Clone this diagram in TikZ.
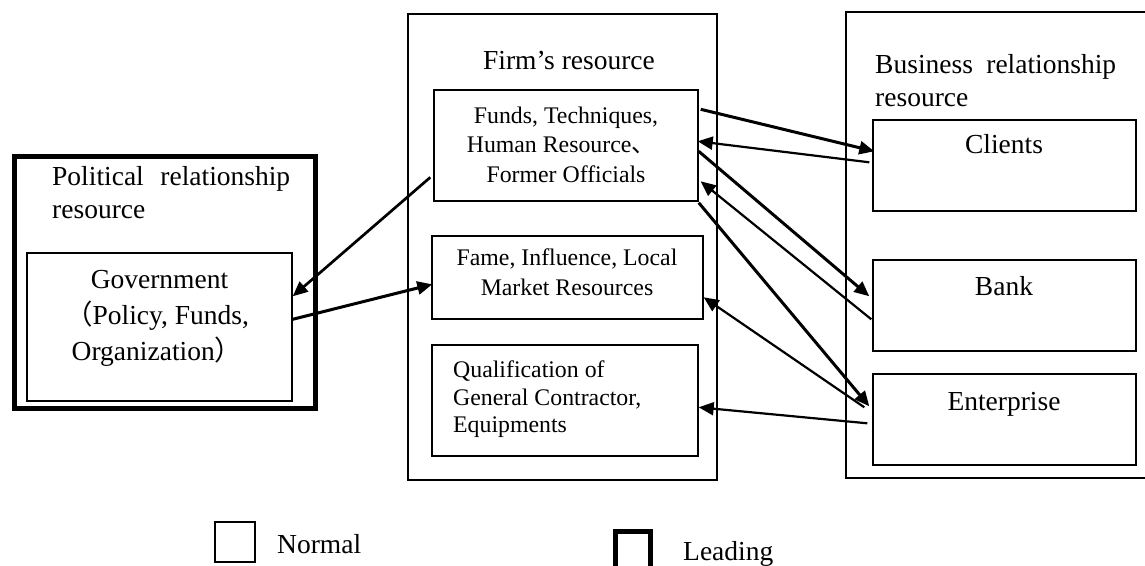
\documentclass[tikz,border=0pt]{standalone}
\usepackage{fontspec}
\setmainfont{Liberation Serif}
\newfontfamily\cjk{Noto Sans CJK SC}
\usetikzlibrary{arrows.meta}

\newcommand\FontA{\fontsize{27.5pt}{33pt}\selectfont}
\newcommand\FontB{\fontsize{23.8pt}{29pt}\selectfont}

\tikzset{
  box/.style={draw, line width=1.4pt, rectangle, inner sep=0pt},
  leadbox/.style={draw, line width=5pt, rectangle, inner sep=0pt},
  txt/.style={inner sep=0pt, anchor=base, font=\FontA},
  txtl/.style={inner sep=0pt, anchor=base west, font=\FontA},
  itxt/.style={inner sep=0pt, anchor=base, font=\FontB},
  itxtl/.style={inner sep=0pt, anchor=base west, font=\FontB},
  tip/.style={-{Triangle[length=15pt,width=13pt]}},
  heavy/.style={line width=3pt, tip},
  light/.style={line width=2.2pt, tip},
}

\begin{document}
\begin{tikzpicture}[x=1pt, y=-1pt]
\useasboundingbox (0,0) rectangle (1145,565);
\clip (0,0) rectangle (1145,565);

% political relationship resource (leading)
\node[leadbox, minimum width=301pt, minimum height=252.5pt] (pol) at (165,282.25) {};
\node[txtl] (polt1) at (52,185) {\makebox[238pt][s]{Political relationship}};
\node[txtl] (polt2) at (52,218) {resource};
\node[box, minimum width=265pt, minimum height=148pt] (gov) at (159.5,327) {};
\node[txt] (govt1) at (159.5,288) {Government};
\node[txt] (govt2) at (157,324) {{\cjk （}Policy, Funds,};
\node[txt] (govt3) at (157,360) {Organization{\cjk ）}};

% firm's resource
\node[box, minimum width=309pt, minimum height=466pt] (firm) at (562.5,247) {};
\node[txt] (firmt) at (569,69) {Firm’s resource};
\node[box, minimum width=264pt, minimum height=111pt] (funds) at (566,145.5) {};
\node[itxt] (fundst1) at (566,123) {Funds, Techniques,};
\node[itxt] (fundst2) at (561,152) {Human Resource{\cjk 、}};
\node[itxt] (fundst3) at (566,182) {Former Officials};
\node[box, minimum width=271pt, minimum height=83pt] (fame) at (567.5,277.5) {};
\node[itxt] (famet1) at (567,265) {Fame, Influence, Local};
\node[itxt] (famet2) at (567,295) {Market Resources};
\node[box, minimum width=266pt, minimum height=111pt] (qual) at (565,400.5) {};
\node[itxtl] (qualt1) at (453,377) {Qualification of};
\node[itxtl] (qualt2) at (453,405) {General Contractor,};
\node[itxtl] (qualt3) at (453,432) {Equipments};

% business relationship resource
\node[box, minimum width=314pt, minimum height=466pt] (biz) at (1003,245) {};
\node[txtl] (bizt1) at (875,73) {\makebox[241pt][s]{Business relationship}};
\node[txtl] (bizt2) at (875,106) {resource};
\node[box, minimum width=263pt, minimum height=91pt] (clients) at (1004.5,165.5) {};
\node[txt] (clientst) at (1004,153) {Clients};
\node[box, minimum width=263pt, minimum height=91pt] (bank) at (1004.5,305.5) {};
\node[txt] (bankt) at (1004,295) {Bank};
\node[box, minimum width=263pt, minimum height=91pt] (ent) at (1004.5,419.5) {};
\node[txt] (entt) at (1004,410) {Enterprise};

% connectors
\draw[heavy] ([shift={(2pt,-20pt)}]funds.north east) -- ([shift={(2pt,-32pt)}]clients.north west);
\draw[light] ([shift={(-3pt,-43pt)}]clients.north west) -- ([shift={(-1pt,-52pt)}]funds.north east);
\draw[heavy] ([yshift=-62pt]funds.north east) -- ([shift={(-3pt,-37pt)}]bank.north west);
\draw[light] ([shift={(-1pt,-60pt)}]bank.north west) -- ([shift={(2pt,-92pt)}]funds.north east);
\draw[heavy] ([yshift=-1pt]funds.south east) -- ([shift={(-3pt,-33pt)}]ent.north west);
\draw[light] ([shift={(-8pt,-34pt)}]ent.north west) -- ([yshift=-62pt]fame.north east);
\draw[light] ([shift={(-5pt,-50pt)}]ent.north west) -- ([yshift=-63pt]qual.north east);
\draw[line width=2.7pt, tip] ([shift={(-3pt,-88pt)}]funds.north west) -- ([yshift=-44pt]gov.north east);
\draw[heavy] ([yshift=-67pt]gov.north east) -- ([shift={(1pt,-49pt)}]fame.north west);

% legend
\node[box, minimum width=40pt, minimum height=40pt] (lgnormal) at (235,542) {};
\node[txtl] (lgnormalt) at (277,553) {Normal};
\node[leadbox, minimum width=35pt, minimum height=50pt] (lglead) at (632.5,556) {};
\node[txtl] (lgleadt) at (683,560) {Leading};
\end{tikzpicture}
\end{document}
